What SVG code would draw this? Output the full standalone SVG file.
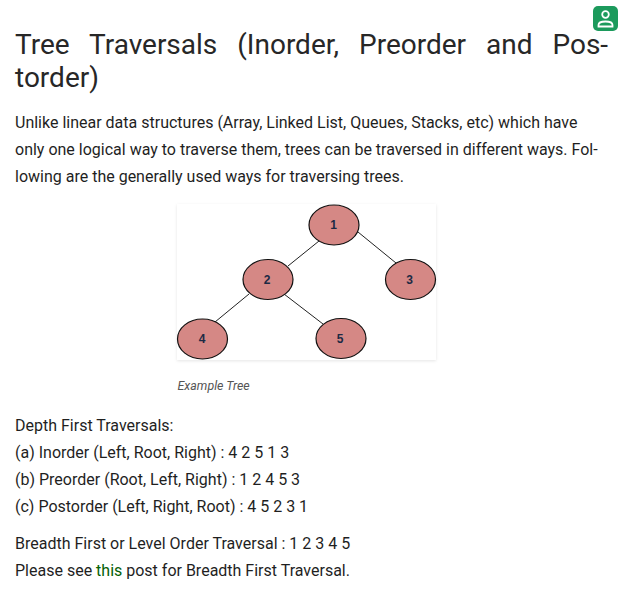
<svg xmlns="http://www.w3.org/2000/svg" width="632" height="589" viewBox="0 0 632 589">
<defs>
<style>
text{font-family:Roboto,"Liberation Sans",sans-serif;fill:#202124}
.t{font-size:28px;fill:#272727}
.b{font-size:16px;fill:#1f1f1f}
.n{fill:#d58885;stroke:#111;stroke-width:1.2}
.l{font-family:"Liberation Sans",Arial,sans-serif;font-size:12px;font-weight:bold;fill:#1c2a44;text-anchor:middle}
.e{stroke:#222;stroke-width:1;fill:none}
</style>
<filter id="s" x="-5%" y="-5%" width="110%" height="110%"><feDropShadow dx="0" dy="1" stdDeviation="1.5" flood-color="#000" flood-opacity="0.1"/></filter>
</defs>
<rect width="632" height="589" fill="#fff"/>
<g id="profile-badge">
<rect x="593" y="6" width="25" height="25" rx="5" fill="#1c9a5c"/>
<circle cx="605.500" cy="14.500" r="3.300" fill="none" stroke="#fff" stroke-width="1.800"/>
<path d="M598.500 26.500v-1.500q0-3.500 7-3.500t7 3.500v1.500z" fill="none" stroke="#fff" stroke-width="1.800"/>
</g>
<g id="title">
<text class="t" x="15" y="54" word-spacing="13">Tree Traversals (Inorder, Preorder and Pos-</text>
<text class="t" x="15" y="87">torder)</text>
</g>
<g id="intro">
<text class="b" x="15" y="128">Unlike linear data structures (Array, Linked List, Queues, Stacks, etc) which have</text>
<text class="b" x="15" y="155">only one logical way to traverse them, trees can be traversed in different ways. Fol-</text>
<text class="b" x="15" y="182">lowing are the generally used ways for traversing trees.</text>
</g>
<rect x="177" y="204" width="259" height="156" fill="#fff" filter="url(#s)"/>
<g id="connectors">
<line class="e" x1="319" y1="241" x2="288" y2="266"/>
<line class="e" x1="358" y1="232" x2="396" y2="263"/>
<line class="e" x1="249" y1="294" x2="215" y2="322"/>
<line class="e" x1="284" y1="294" x2="323" y2="324"/>
</g>
<g id="node-1"><ellipse class="n" cx="334" cy="225" rx="25" ry="20"/><text class="l" x="333.500" y="229">1</text></g>
<g id="node-2"><ellipse class="n" cx="268" cy="279.500" rx="25" ry="20"/><text class="l" x="267" y="284">2</text></g>
<g id="node-3"><ellipse class="n" cx="410.500" cy="279.500" rx="25" ry="20"/><text class="l" x="409.500" y="284">3</text></g>
<g id="node-4"><ellipse class="n" cx="202.500" cy="339" rx="25" ry="20"/><text class="l" x="202" y="343">4</text></g>
<g id="node-5"><ellipse class="n" cx="341" cy="338.500" rx="25" ry="20"/><text class="l" x="340" y="342.500">5</text></g>
<text x="177.500" y="390" font-size="12.400" font-style="italic" style="fill:#555">Example Tree</text>
<g id="body">
<text class="b" x="15" y="431">Depth First Traversals:</text>
<text class="b" x="15" y="458">(a) Inorder (Left, Root, Right) : 4 2 5 1 3</text>
<text class="b" x="15" y="485">(b) Preorder (Root, Left, Right) : 1 2 4 5 3</text>
<text class="b" x="15" y="512">(c) Postorder (Left, Right, Root) : 4 5 2 3 1</text>
<text class="b" x="15" y="549">Breadth First or Level Order Traversal : 1 2 3 4 5</text>
<text class="b" x="15" y="576">Please see <tspan style="fill:#056005">this</tspan> post for Breadth First Traversal.</text>
</g>
</svg>
